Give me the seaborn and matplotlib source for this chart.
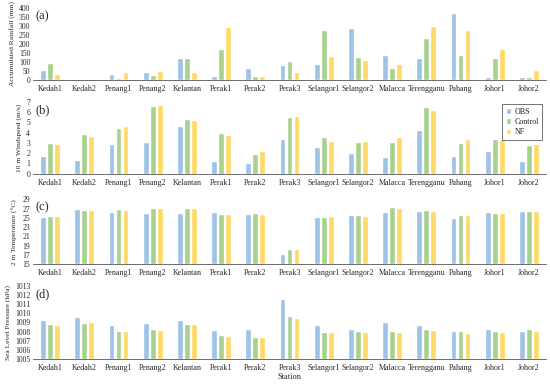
import matplotlib
matplotlib.use("Agg")
import matplotlib.pyplot as plt
import seaborn as sns
import pandas as pd
import numpy as np

stations = ["Kedah1", "Kedah2", "Penang1", "Penang2", "Kelantan", "Perak1", "Perak2", "Perak3",
            "Selangor1", "Selangor2", "Malacca", "Terengganu", "Pahang", "Johor1", "Johor2"]
series = ["OBS", "Control", "NF"]

rain_obs = [57, 5, 33, 44, 120, 20, 66, 86, 89, 287, 137, 120, 374, 15, 15]
rain_ctl = [93, 5, 11, 26, 120, 173, 24, 104, 276, 126, 68, 234, 137, 120, 15]
rain_nf = [31, 3, 46, 49, 47, 296, 22, 44, 133, 113, 89, 301, 279, 172, 57]

wind_obs = [1.68, 1.35, 2.87, 3.06, 4.6, 1.25, 1.05, 3.4, 2.6, 2.0, 1.6, 4.24, 1.72, 2.2, 1.23]
wind_ctl = [2.97, 3.84, 4.48, 6.55, 5.35, 4.0, 1.95, 5.5, 3.55, 3.05, 3.05, 6.47, 2.98, 3.4, 2.8]
wind_nf = [2.87, 3.65, 4.65, 6.65, 5.25, 3.8, 2.25, 5.6, 3.2, 3.15, 3.6, 6.2, 3.4, 3.4, 2.85]

temp_obs = [25.2, 26.9, 26.3, 26.05, 26.0, 26.2, 25.8, 17.2, 25.1, 25.6, 26.3, 26.4, 24.9, 26.3, 26.5]
temp_ctl = [25.3, 26.6, 26.9, 27.1, 27.1, 25.8, 26.05, 18.4, 25.1, 25.7, 27.3, 26.8, 25.7, 26.1, 26.5]
temp_nf = [25.4, 26.7, 26.8, 27.1, 27.1, 25.85, 25.9, 18.4, 25.3, 25.4, 27.1, 26.5, 25.6, 26.0, 26.5]

slp_obs = [1009.3, 1009.6, 1008.7, 1008.9, 1009.3, 1008.2, 1008.3, 1011.6, 1008.7, 1008.3, 1009.0, 1008.7, 1008.05, 1008.3, 1008.1]
slp_ctl = [1008.8, 1008.95, 1008.1, 1008.3, 1008.8, 1007.6, 1007.45, 1009.7, 1007.95, 1008.1, 1008.1, 1008.3, 1008.1, 1008.1, 1008.3]
slp_nf = [1008.75, 1009.0, 1008.1, 1008.2, 1008.8, 1007.5, 1007.4, 1009.5, 1007.9, 1008.0, 1007.95, 1008.2, 1007.8, 1008.0, 1008.1]

ylabels = ["Accumulated Rainfall (mm)", "10 m Windspeed (m/s)", "2 m Temperature (°C)", "Sea Level Pressure (hPa)"]
panel_tags = ["(a)", "(b)", "(c)", "(d)"]
ylims = [(0, 400, 50), (0, 7, 1), (15, 29, 2), (1005, 1013, 1)]
colors = ["#9DC3E6", "#A9D18E", "#FFD966"]

sns.set_theme(style="white")
plt.rcParams["font.family"] = ["Liberation Serif", "DejaVu Serif"]

fig = plt.figure(figsize=(5.5, 3.84), dpi=100)

W, H = 550.0, 384.0
panels_px = [(8, 80), (101.7, 173.7), (199.3, 264.3), (285.7, 359)]
left_px, right_px = 33, 546

datasets = [(rain_obs, rain_ctl, rain_nf), (wind_obs, wind_ctl, wind_nf),
            (temp_obs, temp_ctl, temp_nf), (slp_obs, slp_ctl, slp_nf)]

for i, ((top, bot), data) in enumerate(zip(panels_px, datasets)):
    ax = fig.add_axes([left_px / W, 1 - bot / H, (right_px - left_px) / W, (bot - top) / H])
    df = pd.DataFrame({
        "Station": stations * 3,
        "Series": sum([[s] * len(stations) for s in series], []),
        "Value": list(data[0]) + list(data[1]) + list(data[2]),
    })
    lo, hi, step = ylims[i]
    df["Plot"] = df["Value"] - lo
    sns.barplot(data=df, x="Station", y="Plot", hue="Series", order=stations, hue_order=series,
                palette=colors, width=0.62, gap=0.18, ax=ax, legend=(i == 1), saturation=1)
    ax.set_xlim(-0.5, len(stations) - 0.5)
    ax.set_ylim(0, hi - lo)
    ticks = np.arange(lo, hi + step / 2, step)
    ax.set_yticks(ticks - lo)
    ax.set_yticklabels([f"{t:g}" for t in ticks], fontsize=5.5)
    ax.set_xticks(range(len(stations)))
    ax.set_xticklabels(stations, fontsize=5.8)
    ax.set_xticks(np.arange(-0.5, len(stations) + 0.5, 1), minor=True)
    ax.tick_params(axis="x", which="major", length=0, pad=3.5)
    ax.tick_params(axis="x", which="minor", length=2.5, width=0.6, color="#555555", direction="out")
    ax.tick_params(axis="y", length=0, pad=2)
    for s in ["top", "right", "left"]:
        ax.spines[s].set_visible(False)
    ax.spines["bottom"].set_color("#555555")
    ax.spines["bottom"].set_linewidth(0.6)
    ax.set_ylabel(ylabels[i], fontsize=5.4, labelpad=3)
    ax.set_xlabel("Station" if i == 3 else "", fontsize=6, labelpad=1)
    ax.text(0.005, 0.97, panel_tags[i], transform=ax.transAxes, fontsize=9, va="top", ha="left")
    ax.grid(False)
    if i == 1:
        leg = ax.legend(loc="upper right", bbox_to_anchor=(1.0, 1.02), fontsize=5.8, frameon=True,
                        fancybox=False, edgecolor="#333333", handlelength=0.7, handleheight=0.7,
                        handletextpad=0.4, borderpad=0.4, labelspacing=0.3, title=None)
        leg.get_frame().set_linewidth(0.6)

fig.savefig("out.png", dpi=100)
